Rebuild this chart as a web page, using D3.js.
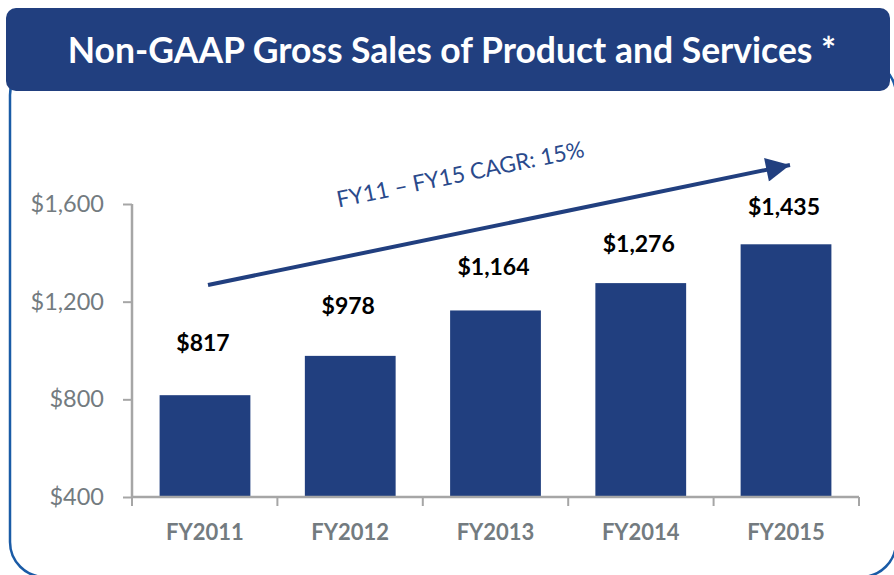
<!DOCTYPE html>
<html lang="en">
<head>
    <meta charset="UTF-8">
    <script src="https://d3js.org/d3.v7.min.js"></script>
    <title>index</title>
    <style>
        body { margin: 0; background: #fff; }
        text { font-family: Lato, "Open Sans", sans-serif; }
    </style>
</head>
<body>
    <div id="chart"></div>
    <script>
        // chart data
        var years = ['FY2011', 'FY2012', 'FY2013', 'FY2014', 'FY2015'];
        var sales = [817, 978, 1164, 1276, 1435];
        var valueLabels = ['$817', '$978', '$1,164', '$1,276', '$1,435'];
        var yTicks = [400, 800, 1200, 1600];
        var yTickLabels = ['$400', '$800', '$1,200', '$1,600'];
        var title = 'Non-GAAP Gross Sales of Product and Services *';
        var cagrText = 'FY11 \u2013 FY15 CAGR: 15%';

        // label gap above each bar (px), labels were placed by hand in the source
        var labelGap = [44, 42, 35, 31, 29];

        var width = 894, height = 575;
        var navy = '#213f7f';
        var grey = '#a6a6a6';

        var svg = d3.select('#chart').append('svg')
            .attr('width', width)
            .attr('height', height);

        // outer frame
        svg.append('rect')
            .attr('x', 10).attr('y', 60)
            .attr('width', 886).attr('height', 517)
            .attr('rx', 35)
            .attr('fill', 'none')
            .attr('stroke', '#1a5ba6')
            .attr('stroke-width', 2.5);

        // title banner
        svg.append('rect')
            .attr('x', 6).attr('y', 8)
            .attr('width', 884).attr('height', 83)
            .attr('rx', 10)
            .attr('fill', navy);

        svg.append('text')
            .attr('x', 452).attr('y', 63)
            .attr('text-anchor', 'middle')
            .attr('fill', '#fff')
            .attr('font-size', 35.5)
            .attr('font-weight', 700)
            .text(title);

        var x = d3.scaleBand()
            .domain(years)
            .range([132, 859])
            .paddingInner(0.375)
            .paddingOuter(0.19);

        var y = d3.scaleLinear()
            .domain([400, 1600])
            .range([497, 204]);

        // y axis
        var yAxis = svg.append('g')
            .attr('transform', 'translate(132,0)')
            .call(d3.axisLeft(y).tickValues(yTicks).tickSize(9)
                .tickFormat(function(d, i) { return yTickLabels[i]; }));
        yAxis.select('.domain').attr('stroke', grey).attr('stroke-width', 2.5)
            .attr('d', 'M0,' + y(1600) + 'V' + y(400));
        yAxis.selectAll('.tick line').attr('stroke', grey).attr('stroke-width', 2);
        yAxis.selectAll('.tick text')
            .attr('x', -28)
            .attr('fill', '#737b80')
            .attr('font-size', 23.5)
            .attr('font-family', 'Lato, sans-serif');

        // bars
        svg.selectAll('.bar')
            .data(sales)
            .enter().append('rect')
            .attr('class', 'bar')
            .attr('x', function(d, i) { return x(years[i]); })
            .attr('y', function(d) { return y(d); })
            .attr('width', x.bandwidth())
            .attr('height', function(d) { return y(400) - y(d); })
            .attr('fill', navy);

        // x axis
        var xEdge = d3.scaleLinear().domain([0, years.length]).range([132, 859]);
        var xAxis = svg.append('g').attr('transform', 'translate(0,' + y(400) + ')');
        xAxis.append('line')
            .attr('x1', 132).attr('x2', 859)
            .attr('stroke', grey).attr('stroke-width', 2.5);
        xAxis.selectAll('.xt')
            .data(d3.range(years.length + 1))
            .enter().append('line')
            .attr('class', 'xt')
            .attr('x1', function(d) { return xEdge(d); })
            .attr('x2', function(d) { return xEdge(d); })
            .attr('y1', 0).attr('y2', 9)
            .attr('stroke', grey).attr('stroke-width', 2);
        xAxis.selectAll('.xl')
            .data(years)
            .enter().append('text')
            .attr('class', 'xl')
            .attr('x', function(d) { return x(d) + x.bandwidth() / 2; })
            .attr('y', 43)
            .attr('text-anchor', 'middle')
            .attr('fill', '#737b80')
            .attr('font-size', 22)
            .attr('font-weight', 700)
            .text(function(d) { return d; });

        // value labels
        svg.selectAll('.val')
            .data(sales)
            .enter().append('text')
            .attr('class', 'val')
            .attr('x', function(d, i) { return x(years[i]) + x.bandwidth() / 2 - 2; })
            .attr('y', function(d, i) { return y(d) - labelGap[i]; })
            .attr('text-anchor', 'middle')
            .attr('fill', '#000')
            .attr('font-size', 23)
            .attr('font-weight', 700)
            .text(function(d, i) { return valueLabels[i]; });

        // CAGR arrow
        var defs = svg.append('defs');
        defs.append('marker')
            .attr('id', 'head')
            .attr('viewBox', '0 0 10 10')
            .attr('refX', 10).attr('refY', 5)
            .attr('markerWidth', 8.5).attr('markerHeight', 6)
            .attr('markerUnits', 'strokeWidth')
            .attr('orient', 'auto')
            .append('path')
            .attr('d', 'M0,0L10,5L0,10Z')
            .attr('fill', navy);

        var x0 = x('FY2011') + x.bandwidth() / 2 + 3, y0 = y(1268);
        var x1 = x('FY2015') + x.bandwidth() / 2 + 4, y1 = y(1760);
        svg.append('line')
            .attr('x1', x0).attr('y1', y0)
            .attr('x2', x1).attr('y2', y1)
            .attr('stroke', navy)
            .attr('stroke-width', 4)
            .attr('marker-end', 'url(#head)');

        var ang = Math.atan2(y1 - y0, x1 - x0) * 180 / Math.PI;
        svg.append('text')
            .attr('transform', 'translate(462,182) rotate(' + ang + ')')
            .attr('text-anchor', 'middle')
            .attr('fill', '#2a4a8c')
            .attr('font-size', 22.5)
            .text(cagrText);
    </script>
</body>
</html>
